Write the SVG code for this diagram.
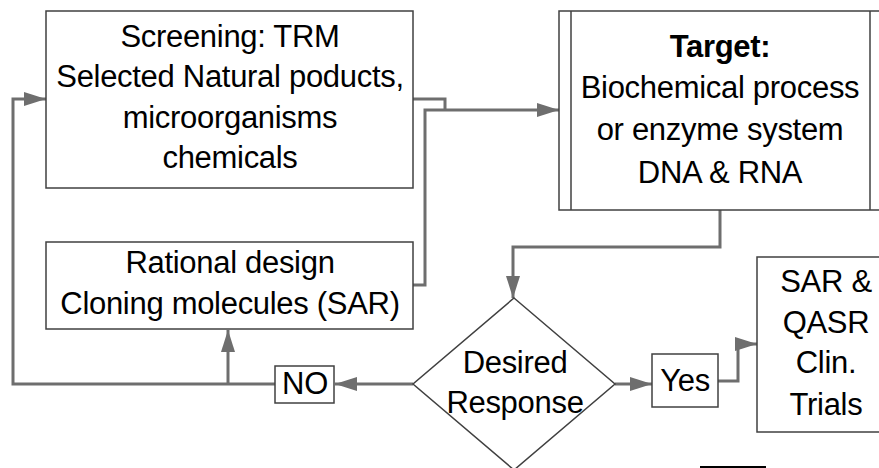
<svg xmlns="http://www.w3.org/2000/svg" width="879" height="468" viewBox="0 0 879 468">
<style>
.box{fill:#fff;stroke:#404040;stroke-width:1.5}
.t{font-family:"Liberation Sans",Arial,sans-serif;font-size:31px;fill:#000;text-anchor:middle;letter-spacing:-0.3px}
.b{font-weight:bold}
.c{fill:none;stroke:#6e6e6e;stroke-width:3}
</style>
<defs>
<marker id="ah" markerUnits="userSpaceOnUse" markerWidth="24" markerHeight="16" refX="22" refY="7" orient="auto">
<path d="M0,0 L22,7 L0,14 z" fill="#6e6e6e"/>
</marker>
</defs>
<rect width="879" height="468" fill="#fff"/>
<g id="connectors">
<path class="c" d="M275,384 H13 V99 H46" marker-end="url(#ah)"/>
<path class="c" d="M228,384 V330" marker-end="url(#ah)"/>
<path class="c" d="M413,384 H335" marker-end="url(#ah)"/>
<path class="c" d="M413,99 H445 V110"/>
<path class="c" d="M413,285 H425 V110 H559" marker-end="url(#ah)"/>
<path class="c" d="M720,210 V247 H513 V298" marker-end="url(#ah)"/>
<path class="c" d="M615,384 H652" marker-end="url(#ah)"/>
<path class="c" d="M718,381 H738 V344 H757" marker-end="url(#ah)"/>
</g>
<g id="screening">
<rect class="box" x="46" y="11" width="367" height="177"/>
<text class="t" x="230" y="47">Screening: TRM</text>
<text class="t" x="230" y="87">Selected Natural poducts,</text>
<text class="t" x="230" y="128">microorganisms</text>
<text class="t" x="230" y="168">chemicals</text>
</g>
<g id="target">
<rect class="box" x="559" y="11" width="323" height="199"/>
<line class="box" x1="571" y1="11" x2="571" y2="210"/>
<line class="box" x1="870" y1="11" x2="870" y2="210"/>
<text class="t b" x="720" y="57">Target:</text>
<text class="t" x="720" y="98">Biochemical process</text>
<text class="t" x="720" y="140">or enzyme system</text>
<text class="t" x="720" y="183">DNA &amp; RNA</text>
</g>
<g id="rational">
<rect class="box" x="46" y="242" width="367" height="87"/>
<text class="t" x="230" y="273">Rational design</text>
<text class="t" x="230" y="314">Cloning molecules (SAR)</text>
</g>
<g id="decision">
<path class="box" d="M514,298 L615,384 L514,470 L413,384 Z"/>
<text class="t" x="515" y="373">Desired</text>
<text class="t" x="515" y="413">Response</text>
</g>
<g id="no">
<rect class="box" x="275" y="366" width="59" height="37"/>
<text class="t" x="305" y="394">NO</text>
</g>
<g id="yes">
<rect class="box" x="652" y="354" width="66" height="53"/>
<text class="t" x="685" y="391">Yes</text>
</g>
<g id="sar">
<rect class="box" x="757" y="257" width="138" height="175"/>
<text class="t" x="826" y="292">SAR &amp;</text>
<text class="t" x="826" y="333">QASR</text>
<text class="t" x="826" y="373">Clin.</text>
<text class="t" x="826" y="415">Trials</text>
</g>
<line x1="700" y1="467" x2="766" y2="467" stroke="#000" stroke-width="2"/>
</svg>
